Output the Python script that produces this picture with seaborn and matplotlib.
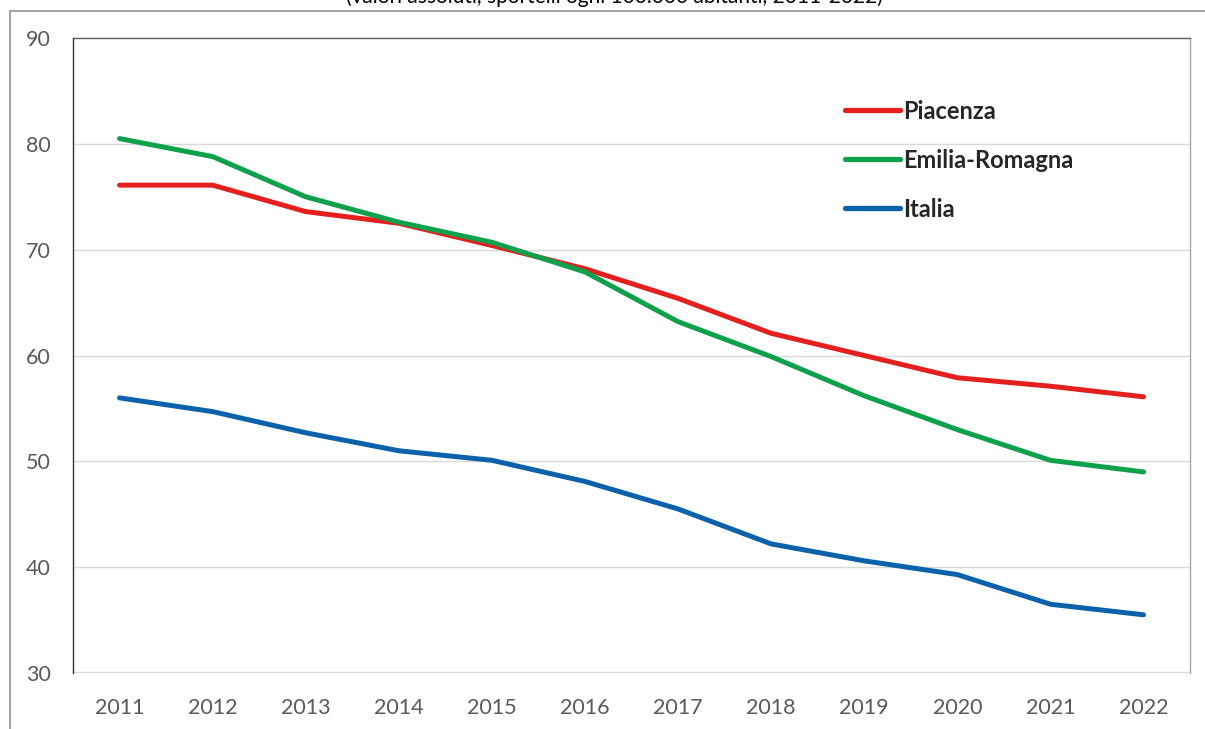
import pandas as pd
import seaborn as sns
import matplotlib.pyplot as plt
from matplotlib.lines import Line2D

years = [2011, 2012, 2013, 2014, 2015, 2016, 2017, 2018, 2019, 2020, 2021, 2022]
piacenza = [76.1, 76.1, 73.6, 72.5, 70.4, 68.2, 65.4, 62.1, 60.0, 57.9, 57.1, 56.1]
emilia_romagna = [80.5, 78.8, 75.0, 72.6, 70.7, 67.9, 63.2, 59.9, 56.2, 53.0, 50.1, 49.0]
italia = [56.0, 54.7, 52.7, 51.0, 50.1, 48.1, 45.5, 42.2, 40.6, 39.3, 36.5, 35.5]

series_names = ["Piacenza", "Emilia-Romagna", "Italia"]
colors = ["#E3201E", "#0FA04B", "#0B62AA"]

df = pd.DataFrame({
    "anno": years * 3,
    "valore": piacenza + emilia_romagna + italia,
    "territorio": [n for n in series_names for _ in years],
})

sns.set_style("white")
plt.rcParams['font.family'] = ['Lato', 'DejaVu Sans']

fig = plt.figure(figsize=(12.05, 7.29), dpi=100)
ax = fig.add_axes([0.0606, 0.0768, 0.927, 0.871])

sns.lineplot(data=df, x="anno", y="valore", hue="territorio", hue_order=series_names,
             palette=colors, linewidth=3.6, ax=ax, solid_capstyle="round")

ax.set_xlim(2010.5, 2022.5)
ax.set_ylim(30, 90)
ax.set_xticks(years)
ax.set_xticklabels([str(y) for y in years])
ax.set_yticks(range(30, 91, 10))
ax.set_xlabel("")
ax.set_ylabel("")
ax.tick_params(axis="both", length=0, labelsize=15.5, labelcolor="#595959")
ax.tick_params(axis="y", pad=16)
ax.tick_params(axis="x", pad=18)

for y in range(40, 90, 10):
    ax.axhline(y, color="#D9D9D9", linewidth=1, zorder=0)
ax.axhline(30, color="#D9D9D9", linewidth=2.5, zorder=0)

ax.spines["left"].set_color("#333333")
ax.spines["left"].set_linewidth(1)
ax.spines["top"].set_color("#595959")
ax.spines["top"].set_linewidth(1)
ax.spines["right"].set_color("#A6A6A6")
ax.spines["right"].set_linewidth(1)
ax.spines["bottom"].set_visible(False)

leg = ax.legend(loc="upper left", bbox_to_anchor=(0.691, 0.903), frameon=False,
                handlelength=2.35, handletextpad=0.1, labelspacing=1.1,
                borderpad=0, borderaxespad=0,
                prop={"weight": "bold", "size": 17})
for line in leg.get_lines():
    line.set_linewidth(3.8)

fig.text(0.51, 1.004, "(valori assoluti, sportelli ogni 100.000 abitanti, 2011-2022)",
         ha="center", va="center", fontsize=15, color="#000000")

fig.add_artist(Line2D([0.0083, 0.0083], [0, 0.985], transform=fig.transFigure,
                      color="#A6A6A6", linewidth=1.5))
fig.add_artist(Line2D([0.0083, 1.0], [0.985, 0.985], transform=fig.transFigure,
                      color="#A6A6A6", linewidth=1.5))

fig.savefig("out.png", dpi=100)
